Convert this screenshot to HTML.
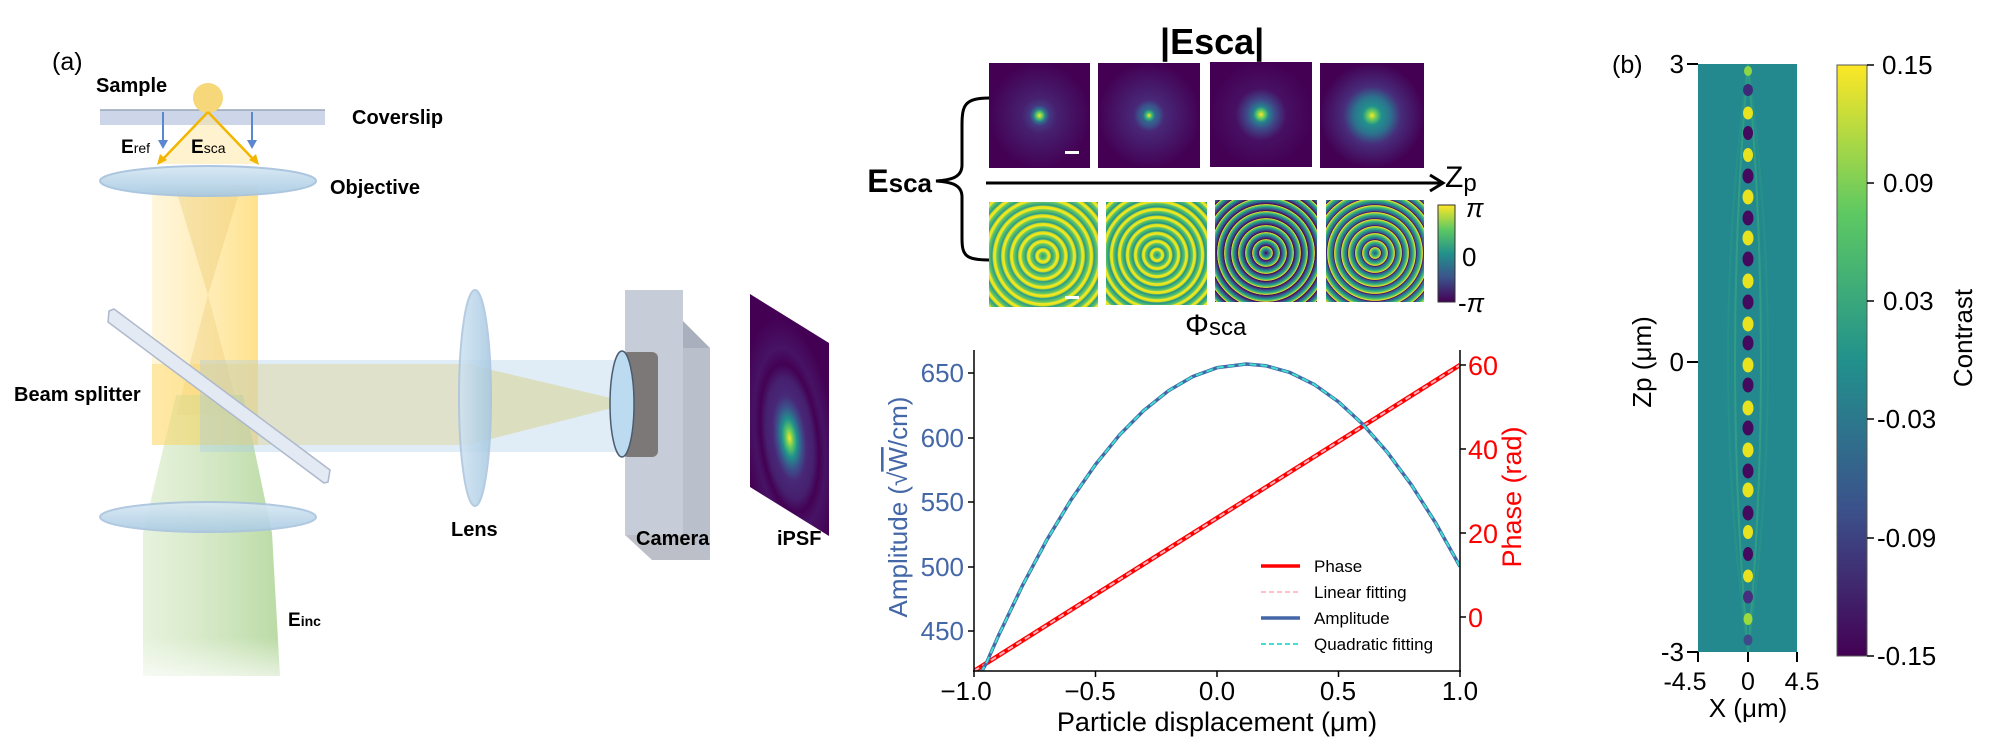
<!DOCTYPE html>
<html><head><meta charset="utf-8"><style>
html,body{margin:0;padding:0;background:#fff;}
svg{display:block;}
text{font-family:"Liberation Sans",Arial,sans-serif;}
</style></head><body>
<svg width="2000" height="746" viewBox="0 0 2000 746" xmlns="http://www.w3.org/2000/svg">
<defs>
<linearGradient id="vir" x1="0" y1="1" x2="0" y2="0">
<stop offset="0" stop-color="#440154"/><stop offset="0.25" stop-color="#3b528b"/><stop offset="0.5" stop-color="#21918c"/><stop offset="0.75" stop-color="#5ec962"/><stop offset="1" stop-color="#fde725"/></linearGradient>
<linearGradient id="yel" x1="0" y1="0" x2="1" y2="0"><stop offset="0" stop-color="#ffe9a8" stop-opacity="0.4"/><stop offset="1" stop-color="#ffd866" stop-opacity="0.75"/></linearGradient>
<linearGradient id="grn" x1="0" y1="0" x2="1" y2="0"><stop offset="0" stop-color="#cfe6bc" stop-opacity="0.5"/><stop offset="1" stop-color="#a9d18e" stop-opacity="0.8"/></linearGradient>
<linearGradient id="grnv" x1="0" y1="0" x2="0" y2="1"><stop offset="0" stop-color="#fff" stop-opacity="0"/><stop offset="0.85" stop-color="#fff" stop-opacity="0"/><stop offset="1" stop-color="#fff" stop-opacity="0.7"/></linearGradient>
<linearGradient id="lensg" x1="0" y1="0" x2="0" y2="1"><stop offset="0" stop-color="#d8e9f4"/><stop offset="1" stop-color="#a9cbe3"/></linearGradient>
<linearGradient id="lensv" x1="0" y1="0" x2="1" y2="0"><stop offset="0" stop-color="#cfe3f1"/><stop offset="1" stop-color="#a6c8e2"/></linearGradient>
<radialGradient id="t1"><stop offset="0" stop-color="#fde725"/><stop offset="0.06" stop-color="#5ec962"/><stop offset="0.12" stop-color="#2a788e"/><stop offset="0.2" stop-color="#453781"/><stop offset="0.35" stop-color="#46206f"/><stop offset="1" stop-color="#440154"/></radialGradient>
<radialGradient id="t2"><stop offset="0" stop-color="#fde725"/><stop offset="0.06" stop-color="#35b779"/><stop offset="0.12" stop-color="#31688e"/><stop offset="0.2" stop-color="#3b528b"/><stop offset="0.3" stop-color="#482878"/><stop offset="1" stop-color="#440154"/></radialGradient>
<radialGradient id="t3"><stop offset="0" stop-color="#fde725"/><stop offset="0.08" stop-color="#5ec962"/><stop offset="0.15" stop-color="#26828e"/><stop offset="0.28" stop-color="#3e4989"/><stop offset="0.5" stop-color="#471063"/><stop offset="1" stop-color="#440154"/></radialGradient>
<radialGradient id="t4"><stop offset="0" stop-color="#fde725"/><stop offset="0.08" stop-color="#6ccd5a"/><stop offset="0.18" stop-color="#21918c"/><stop offset="0.35" stop-color="#2c728e"/><stop offset="0.55" stop-color="#472d7b"/><stop offset="1" stop-color="#440154"/></radialGradient>
<radialGradient id="p1" gradientUnits="userSpaceOnUse" cx="1043" cy="256" r="8.5" spreadMethod="repeat"><stop offset="0" stop-color="#2a9a8a"/><stop offset="0.45" stop-color="#6ccd5a"/><stop offset="0.6" stop-color="#fde725"/><stop offset="0.85" stop-color="#d8e219"/><stop offset="1" stop-color="#2a9a8a"/></radialGradient>
<radialGradient id="p2" gradientUnits="userSpaceOnUse" cx="1157" cy="255" r="8" spreadMethod="repeat"><stop offset="0" stop-color="#21918c"/><stop offset="0.45" stop-color="#5ec962"/><stop offset="0.6" stop-color="#fde725"/><stop offset="0.85" stop-color="#d0e11c"/><stop offset="1" stop-color="#21918c"/></radialGradient>
<radialGradient id="p3" gradientUnits="userSpaceOnUse" cx="1266" cy="253" r="7" spreadMethod="repeat"><stop offset="0" stop-color="#440154"/><stop offset="0.3" stop-color="#3b528b"/><stop offset="0.55" stop-color="#21918c"/><stop offset="0.8" stop-color="#5ec962"/><stop offset="0.95" stop-color="#fde725"/><stop offset="1" stop-color="#440154"/></radialGradient>
<radialGradient id="p4" gradientUnits="userSpaceOnUse" cx="1375" cy="253" r="7" spreadMethod="repeat"><stop offset="0" stop-color="#3b528b"/><stop offset="0.3" stop-color="#21918c"/><stop offset="0.6" stop-color="#5ec962"/><stop offset="0.8" stop-color="#fde725"/><stop offset="0.88" stop-color="#440154"/><stop offset="1" stop-color="#3b528b"/></radialGradient>
<radialGradient id="ipsf" cx="0.5" cy="0.62" r="0.6"><stop offset="0" stop-color="#fde725"/><stop offset="0.08" stop-color="#5ec962"/><stop offset="0.16" stop-color="#21918c"/><stop offset="0.26" stop-color="#3b528b"/><stop offset="0.36" stop-color="#482878"/><stop offset="0.5" stop-color="#46206f"/><stop offset="0.62" stop-color="#440154"/><stop offset="0.75" stop-color="#471365"/><stop offset="1" stop-color="#440154"/></radialGradient>
<clipPath id="plot"><rect x="974" y="350" width="486" height="321"/></clipPath>
</defs>

<!-- ============ Panel (a) optics ============ -->
<text x="52" y="70" font-size="25">(a)</text>
<rect x="152" y="185" width="106" height="260" fill="url(#yel)"/>
<polygon points="176,190 240,190 208,295" fill="#e8c56a" opacity="0.35"/>
<polygon points="208,295 176,415 240,415" fill="#e8c56a" opacity="0.3"/>
<polygon points="176,395 243,395 272,533 280,676 143,676 143,533" fill="url(#grn)"/>
<rect x="140" y="395" width="145" height="285" fill="url(#grnv)"/>
<rect x="152" y="364" width="323" height="81" fill="#ffd866" opacity="0.45"/>
<rect x="200" y="360" width="432" height="92" fill="#a6cbe8" opacity="0.35"/>
<polygon points="475,366 475,443 632,403" fill="#d9d59a" opacity="0.6"/>
<polygon points="109,311 114,309 330,470 328,482 324,483 108,322" fill="#e4eaf4" stroke="#aeb9cc" stroke-width="1.5"/>
<rect x="100" y="110" width="225" height="15" fill="#cdd6e8"/>
<line x1="100" y1="110" x2="325" y2="110" stroke="#9aa5b8" stroke-width="1.5"/>
<polygon points="208,112 158,164 257,164" fill="#ffe7a0" opacity="0.5"/>
<circle cx="208" cy="98" r="15" fill="#f6d77a"/>
<g stroke="#f2b500" stroke-width="2.5" fill="#f2b500">
<line x1="208" y1="112" x2="162" y2="160"/><line x1="208" y1="112" x2="254" y2="160"/>
</g>
<polygon points="157,165 160,154 167,160" fill="#f2b500"/><polygon points="259,165 256,154 249,160" fill="#f2b500"/>
<g stroke="#5b86d0" stroke-width="2"><line x1="163" y1="112" x2="163" y2="142"/><line x1="252" y1="112" x2="252" y2="142"/></g>
<polygon points="158,140 168,140 163,149" fill="#5b86d0"/><polygon points="247,140 257,140 252,149" fill="#5b86d0"/>
<ellipse cx="208" cy="181" rx="108" ry="15" fill="url(#lensg)" stroke="#a9c3de" stroke-width="2" opacity="0.95"/>
<ellipse cx="208" cy="517" rx="108" ry="15" fill="url(#lensg)" stroke="#a9c3de" stroke-width="2" opacity="0.9"/>
<text x="96" y="92" font-size="20" font-weight="bold">Sample</text>
<text x="352" y="124" font-size="20" font-weight="bold">Coverslip</text>
<text x="121" y="153" font-size="19" font-weight="bold">E<tspan font-size="14" font-weight="normal">ref</tspan></text>
<text x="191" y="153" font-size="19" font-weight="bold">E<tspan font-size="14" font-weight="normal">sca</tspan></text>
<text x="330" y="194" font-size="20" font-weight="bold">Objective</text>
<text x="14" y="401" font-size="20" font-weight="bold">Beam  splitter</text>
<text x="288" y="626" font-size="19" font-weight="bold">E<tspan font-size="14">inc</tspan></text>
<ellipse cx="475" cy="398" rx="16" ry="108" fill="url(#lensv)" stroke="#a9c3de" stroke-width="2" opacity="0.85"/>
<text x="451" y="536" font-size="20" font-weight="bold">Lens</text>
<polygon points="625,290 652,290 710,348 683,348" fill="#a9afbd"/>
<polygon points="683,348 710,348 710,560 683,535" fill="#b9c0cc"/>
<rect x="625" y="290" width="58" height="245" fill="#c6ccd8"/>
<polygon points="625,535 683,535 710,560 652,560" fill="#8f95a2" opacity="0.6"/>
<rect x="622" y="352" width="36" height="105" rx="6" fill="#7d7878"/>
<ellipse cx="622" cy="404" rx="12" ry="53" fill="#bcdaf0" stroke="#4a5c6e" stroke-width="1.5"/>
<text x="636" y="545" font-size="20" font-weight="bold">Camera</text>
<g transform="matrix(79,49,0,193,750,294)"><rect x="0" y="0" width="1" height="1" fill="url(#ipsf)"/></g>
<text x="777" y="545" font-size="20" font-weight="bold">iPSF</text>

<!-- ============ middle top images ============ -->
<text x="1160" y="54" font-size="36" font-weight="bold">|Esca|</text>
<rect x="989" y="63" width="101" height="105" fill="url(#t1)"/>
<rect x="1098" y="63" width="102" height="105" fill="url(#t2)"/>
<rect x="1210" y="62" width="102" height="105" fill="url(#t3)"/>
<rect x="1320" y="63" width="104" height="105" fill="url(#t4)"/>
<rect x="1065" y="151" width="14" height="3" fill="#fff"/>
<rect x="989" y="202" width="109" height="105" fill="url(#p1)"/>
<rect x="1106" y="202" width="101" height="103" fill="url(#p2)"/>
<rect x="1215" y="200" width="102" height="102" fill="url(#p3)"/>
<rect x="1326" y="200" width="98" height="102" fill="url(#p4)"/>
<rect x="1065" y="296" width="14" height="3" fill="#fff"/>
<path d="M989,98 C965,98 962,105 962,125 L962,165 C962,178 950,180 936,181 C950,182 962,184 962,197 L962,238 C962,255 965,260 989,260" fill="none" stroke="#000" stroke-width="3"/>
<text x="932" y="192" font-size="32" font-weight="bold" text-anchor="end">E<tspan font-size="26">sca</tspan></text>
<line x1="986" y1="183" x2="1440" y2="183" stroke="#000" stroke-width="3"/>
<polyline points="1430,175 1443,183 1430,191" fill="none" stroke="#000" stroke-width="3"/>
<text x="1445" y="187" font-size="30">Z<tspan font-size="24" dy="4">p</tspan></text>
<rect x="1438" y="205" width="17" height="97" fill="url(#vir)" stroke="#333" stroke-width="1"/>
<g font-size="26" font-family="Liberation Serif, serif">
<text x="1466" y="217" font-style="italic">π</text>
<text x="1462" y="266" font-family="Liberation Sans, sans-serif">0</text>
<text x="1458" y="312">-<tspan font-style="italic">π</tspan></text>
</g>
<text x="1185" y="335" font-size="30">Φ<tspan font-size="24">sca</tspan></text>

<!-- ============ chart ============ -->
<g clip-path="url(#plot)">
<line x1="974" y1="671" x2="1460" y2="365" stroke="#ff0000" stroke-width="4.5"/>
<line x1="974" y1="671" x2="1460" y2="365" stroke="#ffb0bb" stroke-width="2" stroke-dasharray="6,4"/>
<polyline fill="none" stroke="#4467a8" stroke-width="3.5" points="970,692 986.2,663.4 998.3,636 1022.6,585.3 1046.9,539.8 1071.2,499.6 1095.5,464.5 1119.8,434.7 1144.1,410.2 1168.4,390.8 1192.7,376.6 1217,367.7 1246.2,364 1265.6,365.7 1289.9,372.5 1314.2,384.5 1338.5,401.8 1362.8,424.2 1387.1,452 1411.4,484.9 1435.7,523 1460,566.5"/>
<polyline fill="none" stroke="#40e0d0" stroke-width="2" stroke-dasharray="7,4" points="970,692 986.2,663.4 998.3,636 1022.6,585.3 1046.9,539.8 1071.2,499.6 1095.5,464.5 1119.8,434.7 1144.1,410.2 1168.4,390.8 1192.7,376.6 1217,367.7 1246.2,364 1265.6,365.7 1289.9,372.5 1314.2,384.5 1338.5,401.8 1362.8,424.2 1387.1,452 1411.4,484.9 1435.7,523 1460,566.5"/>
</g>
<g stroke="#000" stroke-width="1.5">
<line x1="974" y1="350" x2="974" y2="672"/>
<line x1="1460" y1="350" x2="1460" y2="672"/>
<line x1="973" y1="671" x2="1461" y2="671"/>
<line x1="974" y1="671" x2="974" y2="677"/><line x1="1095.5" y1="671" x2="1095.5" y2="677"/><line x1="1217" y1="671" x2="1217" y2="677"/><line x1="1338.5" y1="671" x2="1338.5" y2="677"/><line x1="1460" y1="671" x2="1460" y2="677"/>
<line x1="968" y1="373" x2="974" y2="373"/><line x1="968" y1="438" x2="974" y2="438"/><line x1="968" y1="502" x2="974" y2="502"/><line x1="968" y1="567" x2="974" y2="567"/><line x1="968" y1="631" x2="974" y2="631"/>
<line x1="1460" y1="365" x2="1466" y2="365"/><line x1="1460" y1="449" x2="1466" y2="449"/><line x1="1460" y1="533" x2="1466" y2="533"/><line x1="1460" y1="617" x2="1466" y2="617"/>
</g>
<g font-size="26" fill="#4467a8" text-anchor="end">
<text x="964" y="382">650</text><text x="964" y="447">600</text><text x="964" y="511">550</text><text x="964" y="576">500</text><text x="964" y="640">450</text>
</g>
<g font-size="27" fill="#ff0000">
<text x="1468" y="375">60</text><text x="1468" y="459">40</text><text x="1468" y="543">20</text><text x="1468" y="627">0</text>
</g>
<g font-size="26" text-anchor="middle">
<text x="966" y="700">−1.0</text><text x="1090" y="700">−0.5</text><text x="1217" y="700">0.0</text><text x="1338" y="700">0.5</text><text x="1460" y="700">1.0</text>
</g>
<text x="1217" y="731" font-size="27" text-anchor="middle">Particle displacement (μm)</text>
<text transform="translate(907,507) rotate(-90)" font-size="26" fill="#4467a8" text-anchor="middle">Amplitude (√<tspan text-decoration="overline">W</tspan>/cm)</text>
<text transform="translate(1521,497) rotate(-90)" font-size="27" fill="#ff0000" text-anchor="middle">Phase (rad)</text>
<line x1="1261" y1="566" x2="1300" y2="566" stroke="#ff0000" stroke-width="3.5"/>
<line x1="1261" y1="592" x2="1300" y2="592" stroke="#ffc0cb" stroke-width="2" stroke-dasharray="5,3"/>
<line x1="1261" y1="618" x2="1300" y2="618" stroke="#4467a8" stroke-width="3.5"/>
<line x1="1261" y1="644" x2="1300" y2="644" stroke="#40e0d0" stroke-width="2" stroke-dasharray="5,3"/>
<g font-size="17"><text x="1314" y="572">Phase</text><text x="1314" y="598">Linear fitting</text><text x="1314" y="624">Amplitude</text><text x="1314" y="650">Quadratic fitting</text></g>

<!-- ============ Panel (b) ============ -->
<text x="1612" y="73" font-size="25">(b)</text>
<rect x="1698" y="64" width="99" height="588" fill="#23898e"/>
<g fill="none" stroke="#3fae7e" stroke-width="2" opacity="0.55">
<path d="M1748,64 Q1722,362 1748,652"/><path d="M1748,64 Q1774,362 1748,652"/>
</g>
<g fill="none" stroke="#2a9a88" stroke-width="2" opacity="0.5">
<path d="M1748,64 Q1708,362 1748,652"/><path d="M1748,64 Q1788,362 1748,652"/>
</g>
<g fill="#e8e31e">
<ellipse cx="1748" cy="71" rx="4" ry="5" fill="#8fd645"/>
<ellipse cx="1748" cy="113" rx="5" ry="6.5"/><ellipse cx="1748" cy="155" rx="5" ry="7"/><ellipse cx="1748" cy="197" rx="5.5" ry="7.5"/><ellipse cx="1748" cy="238" rx="5.5" ry="7.5"/><ellipse cx="1748" cy="281" rx="5.5" ry="7.5"/><ellipse cx="1748" cy="324" rx="5.5" ry="7.5"/><ellipse cx="1748" cy="365" rx="5.5" ry="7.5"/><ellipse cx="1748" cy="408" rx="5.5" ry="7.5"/><ellipse cx="1748" cy="450" rx="5.5" ry="7.5"/><ellipse cx="1748" cy="490" rx="5.5" ry="7.5"/><ellipse cx="1748" cy="532" rx="5" ry="7"/><ellipse cx="1748" cy="576" rx="5" ry="6.5"/><ellipse cx="1748" cy="619" rx="4.5" ry="6" fill="#9bd93c"/>
</g>
<g fill="#440a5e">
<ellipse cx="1748" cy="90" rx="5" ry="6" fill="#3e2a78"/><ellipse cx="1748" cy="133" rx="5" ry="7"/><ellipse cx="1748" cy="176" rx="5.5" ry="7.5"/><ellipse cx="1748" cy="218" rx="5.5" ry="7.5"/><ellipse cx="1748" cy="259" rx="5.5" ry="7.5"/><ellipse cx="1748" cy="302" rx="5.5" ry="7.5"/><ellipse cx="1748" cy="343" rx="5.5" ry="7.5"/><ellipse cx="1748" cy="385" rx="5.5" ry="7.5"/><ellipse cx="1748" cy="428" rx="5.5" ry="7.5"/><ellipse cx="1748" cy="471" rx="5.5" ry="7.5"/><ellipse cx="1748" cy="513" rx="5.5" ry="7.5"/><ellipse cx="1748" cy="554" rx="5" ry="7"/><ellipse cx="1748" cy="597" rx="5" ry="6.5" fill="#462f7e"/><ellipse cx="1748" cy="640" rx="4.5" ry="5.5" fill="#3e4a89"/>
</g>
<g stroke="#000" stroke-width="2">
<line x1="1687" y1="64" x2="1698" y2="64"/><line x1="1687" y1="362" x2="1698" y2="362"/><line x1="1687" y1="652" x2="1698" y2="652"/>
<line x1="1698" y1="652" x2="1698" y2="662"/><line x1="1748" y1="652" x2="1748" y2="662"/><line x1="1797" y1="652" x2="1797" y2="662"/>
</g>
<g font-size="26" text-anchor="end"><text x="1684" y="73">3</text><text x="1684" y="371">0</text><text x="1684" y="661">-3</text></g>
<g font-size="25" text-anchor="middle"><text x="1685" y="690">-4.5</text><text x="1748" y="690">0</text><text x="1802" y="690">4.5</text></g>
<text x="1748" y="717" font-size="26" text-anchor="middle">X (μm)</text>
<text transform="translate(1651,362) rotate(-90)" font-size="26" text-anchor="middle">Zp (μm)</text>
<rect x="1837" y="65" width="30" height="591" fill="url(#vir)" stroke="#555" stroke-width="1"/>
<g stroke="#000" stroke-width="1.5">
<line x1="1867" y1="65" x2="1874" y2="65"/><line x1="1867" y1="183" x2="1874" y2="183"/><line x1="1867" y1="301" x2="1874" y2="301"/><line x1="1867" y1="419" x2="1874" y2="419"/><line x1="1867" y1="538" x2="1874" y2="538"/><line x1="1867" y1="656" x2="1874" y2="656"/>
</g>
<g font-size="26"><text x="1882" y="74">0.15</text><text x="1883" y="192">0.09</text><text x="1883" y="310">0.03</text><text x="1877" y="428">-0.03</text><text x="1877" y="547">-0.09</text><text x="1877" y="665">-0.15</text></g>
<text transform="translate(1972,338) rotate(-90)" font-size="26" text-anchor="middle">Contrast</text>
</svg>
</body></html>
